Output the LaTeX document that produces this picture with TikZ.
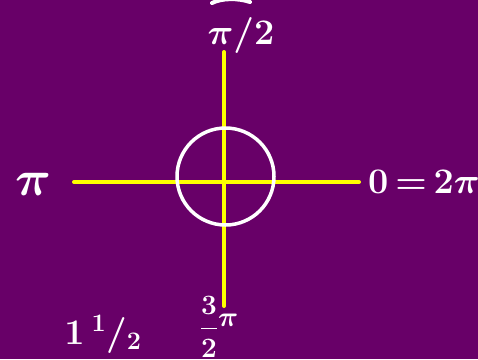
\documentclass[tikz,border=0pt]{standalone}
\usepackage{fix-cm}
\usepackage{amsmath}
\usetikzlibrary{positioning}
\definecolor{boardpurple}{RGB}{104,0,104}
\definecolor{chalkyellow}{RGB}{255,255,0}

\begin{document}
\begin{tikzpicture}[x=1pt, y=-1pt, line cap=round,
  axis/.style={chalkyellow, line width=4pt},
  ring/.style={white, line width=3.5pt},
  lbl/.style={white, inner sep=0pt, font=\fontsize{36}{36}\selectfont\boldmath}]
  % background
  \fill[boardpurple] (0,0) rectangle (478,359);
  \useasboundingbox (0,0) rectangle (478,359);
  % axis ends
  \coordinate (O) at (224,182);
  \coordinate (N) at (224,52);
  \coordinate (S) at (224,306);
  \coordinate (W) at (74,182);
  \coordinate (E) at (359,182);
  % axes
  \draw[axis] (W) -- (E);
  \draw[axis] (N) -- (S);
  % unit circle
  \draw[ring] (225.5,176.5) circle (48.5pt);
  % cut-off stroke at top
  \draw[white, line width=4pt] (212,3) .. controls (222,-2) and (238,-2) .. (250,2);
  % angle labels
  \node[lbl] (top) at (241,35) {$\pi/2$};
  \node[lbl, font=\fontsize{50}{50}\selectfont\boldmath] (left) at (33,184) {$\pi$};
  \node[lbl] (right) at (424,182) {$0\,{=}\,2\pi$};
  \node[lbl, font=\fontsize{28}{28}\selectfont\boldmath] (bottom) at (219,327)
    {$\dfrac{3}{2}\raisebox{9pt}{$\pi$}$};
  \node[lbl] (turn) at (103,334) {$1\,{}^1/{}_2$};
\end{tikzpicture}
\end{document}
